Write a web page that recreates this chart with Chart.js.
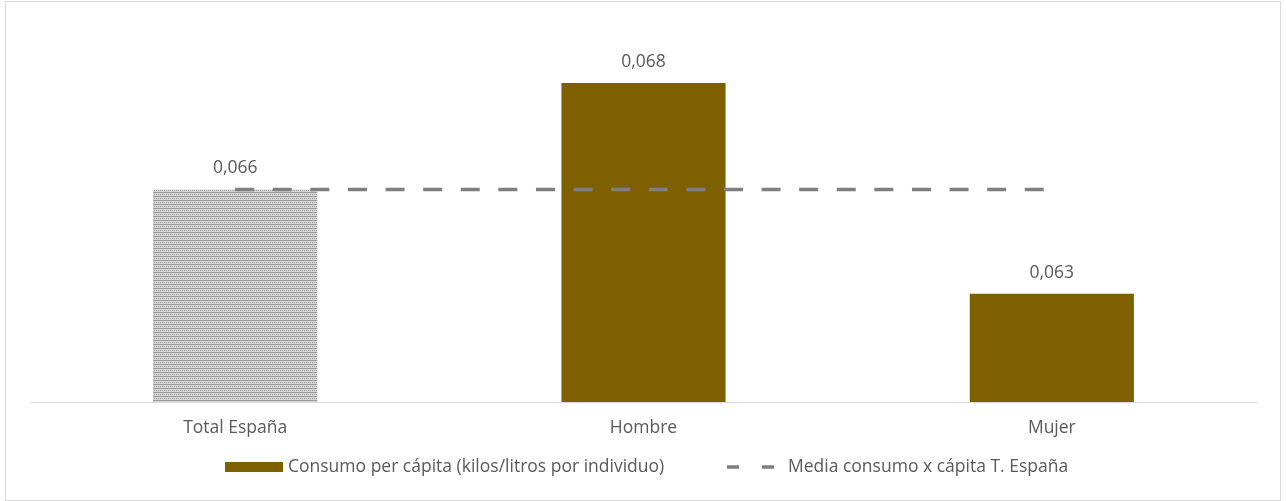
<!DOCTYPE html>
<html>
<head>
<meta charset="utf-8">
<script src="https://cdn.jsdelivr.net/npm/chart.js@4.4.1/dist/chart.umd.min.js"></script>
<style>
html,body{margin:0;padding:0;background:#fff;}
#wrap{position:relative;width:1286px;height:501px;}
</style>
</head>
<body>
<div id="wrap"><canvas id="c" width="1286" height="501"></canvas></div>
<script>
const categories = ["Total España", "Hombre", "Mujer"];
const consumoPerCapita = [0.06558, 0.06837, 0.06284];
const mediaTotalEspana = [0.06558, 0.06558, 0.06558];
const seriesNames = ["Consumo per cápita (kilos/litros por individuo)", "Media consumo x cápita T. España"];
const yMin = 0.06, yMax = 0.07;

const FONT = "'Open Sans', sans-serif";
const FS = 17.5;
const TEXT = "#595959";
const BROWN = "#7f6000";
const GRAY = "#7f7f7f";

function makePattern() {
  const p = document.createElement('canvas');
  p.width = 4; p.height = 4;
  const g = p.getContext('2d');
  g.fillStyle = '#d6d6d6'; g.fillRect(0,0,4,4);
  g.fillStyle = '#9a9a9a';
  g.fillRect(0,0,4,1);
  g.fillRect(0,2,1,1); g.fillRect(2,2,1,1);
  return g.createPattern(p, 'repeat');
}
const ctx = document.getElementById('c').getContext('2d');
const pattern = makePattern();

const fmt = v => v.toFixed(3).replace('.', ',');

const extras = {
  id: 'extras',
  afterDatasetsDraw(chart) {
    const c = chart.ctx;
    const meta = chart.getDatasetMeta(1);
    c.save();
    c.fillStyle = TEXT;
    c.font = FS + "px " + FONT;
    c.textAlign = 'center';
    c.textBaseline = 'middle';
    meta.data.forEach((bar, i) => {
      c.fillText(fmt(consumoPerCapita[i]), bar.x, bar.y - 21);
    });
    c.restore();
  },
  afterDraw(chart) {
    const c = chart.ctx;
    c.save();
    c.strokeStyle = '#d9d9d9';
    c.lineWidth = 1;
    c.strokeRect(5.5, 1.5, 1275, 499);
    const ly = 467;
    c.fillStyle = BROWN;
    c.fillRect(225, ly - 5, 58, 10);
    c.fillStyle = TEXT;
    c.font = FS + "px " + FONT;
    c.textBaseline = 'middle';
    c.textAlign = 'left';
    c.fillText(seriesNames[0], 288, ly);
    c.strokeStyle = GRAY;
    c.lineWidth = 3.5;
    c.setLineDash([12, 23]);
    c.beginPath();
    c.moveTo(727, ly); c.lineTo(775, ly);
    c.stroke();
    c.setLineDash([]);
    c.fillText(seriesNames[1], 788, ly);
    c.restore();
  }
};

new Chart(ctx, {
  data: {
    labels: categories,
    datasets: [
      {
        type: 'line',
        label: seriesNames[1],
        data: mediaTotalEspana,
        borderColor: GRAY,
        borderWidth: 3.5,
        borderDash: [19, 18.6],
        pointRadius: 0,
        fill: false,
        order: 0
      },
      {
        type: 'bar',
        label: seriesNames[0],
        data: consumoPerCapita,
        backgroundColor: [pattern, BROWN, BROWN],
        barPercentage: 1,
        categoryPercentage: 0.402,
        order: 1
      }
    ]
  },
  options: {
    responsive: false,
    animation: false,
    layout: { padding: { left: 31, right: 30, top: 21, bottom: 46 } },
    plugins: { legend: { display: false }, tooltip: { enabled: false } },
    scales: {
      x: {
        grid: { display: false, drawTicks: false },
        border: { display: true, color: '#d9d9d9', width: 1 },
        ticks: { color: TEXT, font: { family: FONT, size: FS }, padding: 16 }
      },
      y: {
        display: false,
        min: yMin, max: yMax
      }
    }
  },
  plugins: [extras]
});
</script>
</body>
</html>
